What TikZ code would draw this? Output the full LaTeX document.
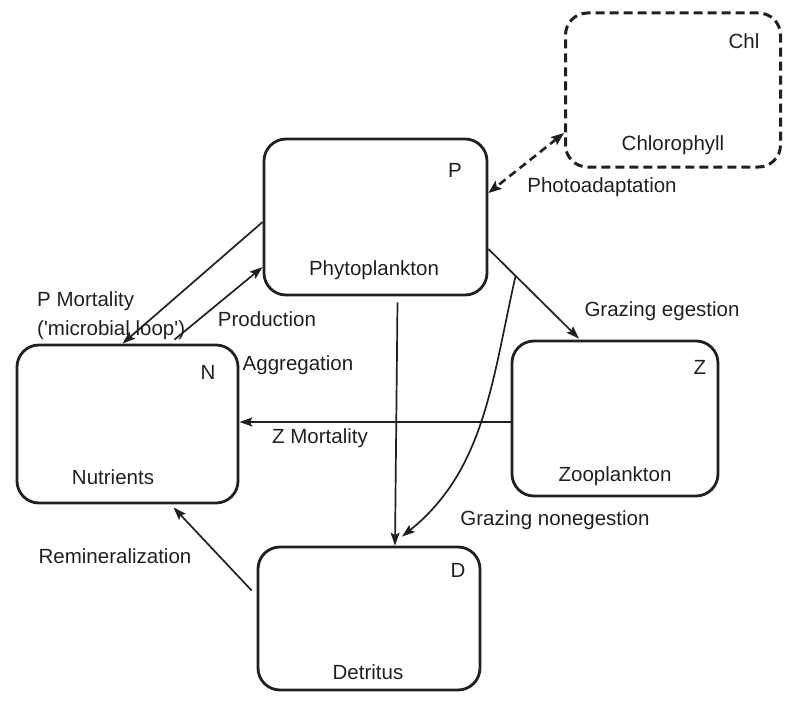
\documentclass[tikz,border=0pt]{standalone}
\usepackage{fontspec}
\setmainfont{Liberation Sans}
\usetikzlibrary{arrows.meta,calc}
\definecolor{ink}{HTML}{231F20}
\tikzset{
  box/.style={draw=ink, line width=2.8pt, rounded corners=22pt, inner sep=0pt},
  lbl/.style={text=ink, font=\fontsize{20.5}{24}\selectfont, inner sep=0pt},
  flow/.style={draw=ink, line width=1.7pt, -{Stealth[length=13pt,width=9pt,inset=2.5pt]}},
  dflow/.style={draw=ink, line width=2.6pt, dash pattern=on 8pt off 5pt,
     {Stealth[length=13pt,width=10pt,inset=2.5pt]}-{Stealth[length=13pt,width=10pt,inset=2.5pt]}},
  dbox/.style={draw=ink, line width=3pt, dash pattern=on 9pt off 5pt, rounded corners=22pt, inner sep=0pt}
}
\begin{document}
\begin{tikzpicture}[x=1pt,y=-1pt]
\useasboundingbox (0,0) rectangle (785,701);
% boxes
\node[box, minimum width=223pt, minimum height=156pt] (P) at (375.5,217) {};
\node[box, minimum width=221pt, minimum height=158pt] (N) at (127.5,424) {};
\node[box, minimum width=206pt, minimum height=155pt] (Z) at (615,418.5) {};
\node[box, minimum width=222pt, minimum height=143pt] (D) at (369,618.5) {};
\node[dbox, minimum width=215pt, minimum height=154pt] (C) at (673,90) {};
% box texts
\node[lbl] (Pt) at (455,170) {P};
\node[lbl] (Pn) at (374,270) {Phytoplankton};
\node[lbl] (Nt) at (208,372) {N};
\node[lbl] (Nn) at (113,477) {Nutrients};
\node[lbl] (Zt) at (700,367) {Z};
\node[lbl] (Zn) at (615,476) {Zooplankton};
\node[lbl] (Dt) at (458,570) {D};
\node[lbl] (Dn) at (368,672) {Detritus};
\node[lbl] (Ct) at (744,41) {Chl};
\node[lbl] (Cn) at (673,145) {Chlorophyll};
% connectors
\draw[flow] ($(P.west)+(0,5)$) -- ($(N.north)+(-5,0)$);
\draw[flow] ($(N.north)+(47,-4)$) -- ($(P.west)+(0,50)$);
\draw[flow] ($(P.south)+(22,6)$) -- ($(D.north)+(26,0)$);
\draw[flow] ($(P.east)+(0,32)$) -- coordinate[pos=0.3] (br) ($(Z.north)+(-36,-1)$);
\draw[flow] (br) .. controls (492,380) and (485,470) .. ($(D.north)+(33,-9)$);
\draw[flow] ($(Z.west)+(0,3.5)$) -- ($(N.east)+(0,-2)$);
\draw[flow] ($(D.west)+(-5,-28)$) -- ($(N.south)+(46,3)$);
\draw[dflow] ($(C.west)+(0,43)$) -- ($(P.east)+(0,-24)$);
% flow labels
\node[lbl, anchor=west] (l1) at (37,301) {P Mortality};
\node[lbl, anchor=west] (l2) at (37,330) {(\textquotesingle microbial loop\textquotesingle)};
\node[lbl] (l3) at (267,319) {Production};
\node[lbl] (l4) at (298,365) {Aggregation};
\node[lbl] (l5) at (662,311) {Grazing egestion};
\node[lbl] (l6) at (320,438) {Z Mortality};
\node[lbl] (l7) at (555,520) {Grazing nonegestion};
\node[lbl] (l8) at (115,556) {Remineralization};
\node[lbl] (l9) at (602,187) {Photoadaptation};
\end{tikzpicture}
\end{document}
